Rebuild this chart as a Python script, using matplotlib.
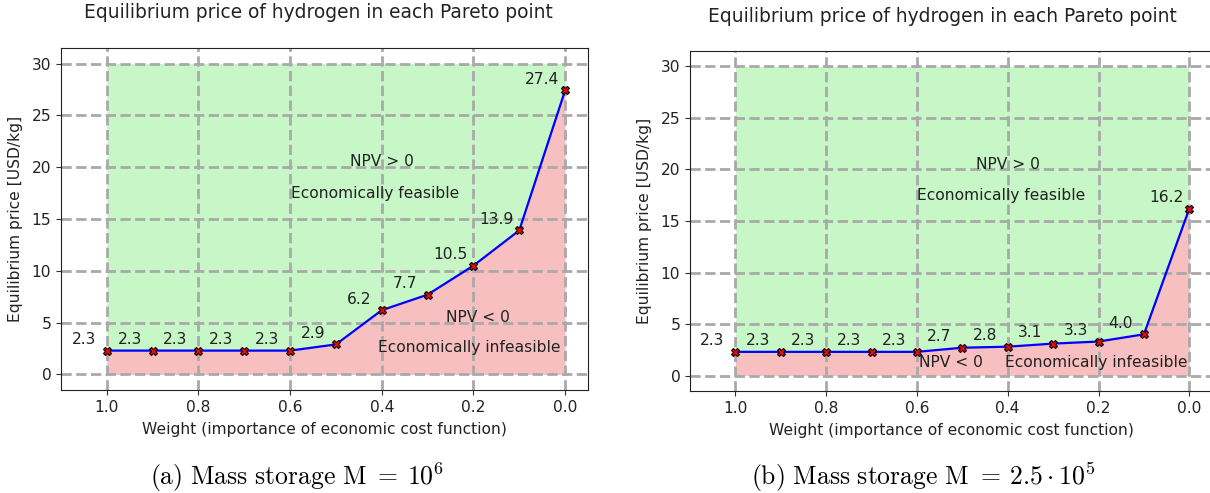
import matplotlib
matplotlib.use("Agg")
import matplotlib.pyplot as plt

plt.rcParams['font.family'] = ['DejaVu Sans']
plt.rcParams['mathtext.fontset'] = 'cm'

weights = [1.0, 0.9, 0.8, 0.7, 0.6, 0.5, 0.4, 0.3, 0.2, 0.1, 0.0]
price_a = [2.3, 2.3, 2.3, 2.3, 2.3, 2.9, 6.2, 7.7, 10.5, 13.9, 27.4]
price_b = [2.3, 2.3, 2.3, 2.3, 2.3, 2.7, 2.8, 3.1, 3.3, 4.0, 16.2]
x_ticks = [1.0, 0.8, 0.6, 0.4, 0.2, 0.0]
y_ticks = [0, 5, 10, 15, 20, 25, 30]
upper = 30

title = "Equilibrium price of hydrogen in each Pareto point"
xlabel = "Weight (importance of economic cost function)"
ylabel = "Equilibrium price [USD/kg]"
captions = [r"$\mathrm{(a)\ Mass\ storage\ M}\ {=}\:10^6$",
            r"$\mathrm{(b)\ Mass\ storage\ M}\ {=}\:2.5 \cdot 10^5$"]

# region label positions (data coords)
texts_a = [("NPV > 0", 0.40, 20.5), ("Economically feasible", 0.415, 17.5),
           ("NPV < 0", 0.19, 5.5), ("Economically infeasible", 0.21, 2.6)]
texts_b = [("NPV > 0", 0.40, 20.5), ("Economically feasible", 0.415, 17.5),
           ("NPV < 0", 0.525, 1.3), ("Economically infeasible", 0.205, 1.3)]

W, H = 1210, 493
fig = plt.figure(figsize=(W / 100, H / 100), dpi=100)

def px_axes(l, t, r, b):
    return fig.add_axes([l / W, 1 - b / H, (r - l) / W, (b - t) / H])

ax_a = px_axes(61, 48, 588, 390)
ax_b = px_axes(690, 51, 1212, 391)

FS = 11.2

def draw(ax, y, texts, caption, title_x, title_y, cap_x):
    ax.fill_between(weights, y, upper, color='lightgreen', alpha=0.5, linewidth=0)
    ax.fill_between(weights, 0, y, color='lightcoral', alpha=0.5, linewidth=0)
    ax.plot(weights, y, color='blue', linewidth=1.6, marker='X', markersize=6.2,
            markerfacecolor='red', markeredgecolor='black', markeredgewidth=0.8, zorder=3)
    for xv, yv in zip(weights, y):
        ax.annotate(f"{yv:.1f}", (xv, yv), xytext=(-16.5, 4.8), textcoords='offset points',
                    ha='center', va='baseline', fontsize=FS, color='#222222')
    for s, tx, ty in texts:
        ax.text(tx, ty, s, ha='center', va='center', fontsize=FS, color='#222222')
    ax.set_xlim(1.1, -0.05)
    ax.set_ylim(-1.5, 31.5)
    ax.set_xticks(x_ticks)
    ax.set_yticks(y_ticks)
    ax.tick_params(labelsize=FS, colors='#333333', labelcolor='#222222')
    ax.grid(True, linestyle='--', linewidth=2, color='#a9a9a9')
    ax.set_xlabel(xlabel, fontsize=FS, color='#222222', labelpad=5)
    ax.set_ylabel(ylabel, fontsize=FS, color='#222222', labelpad=6)
    fig.text(title_x / W, 1 - title_y / H, title, ha='center', va='center',
             fontsize=13.4, color='#222222')
    fig.text(cap_x / W, 1 - 477 / H, caption, ha='center', va='center',
             fontsize=18.5, color='black')
    for sp in ax.spines.values():
        sp.set_color('#222222')

draw(ax_a, price_a, texts_a, captions[0], 318, 12, 297)
draw(ax_b, price_b, texts_b, captions[1], 942, 16, 923)

fig.savefig("out.png", dpi=100)
